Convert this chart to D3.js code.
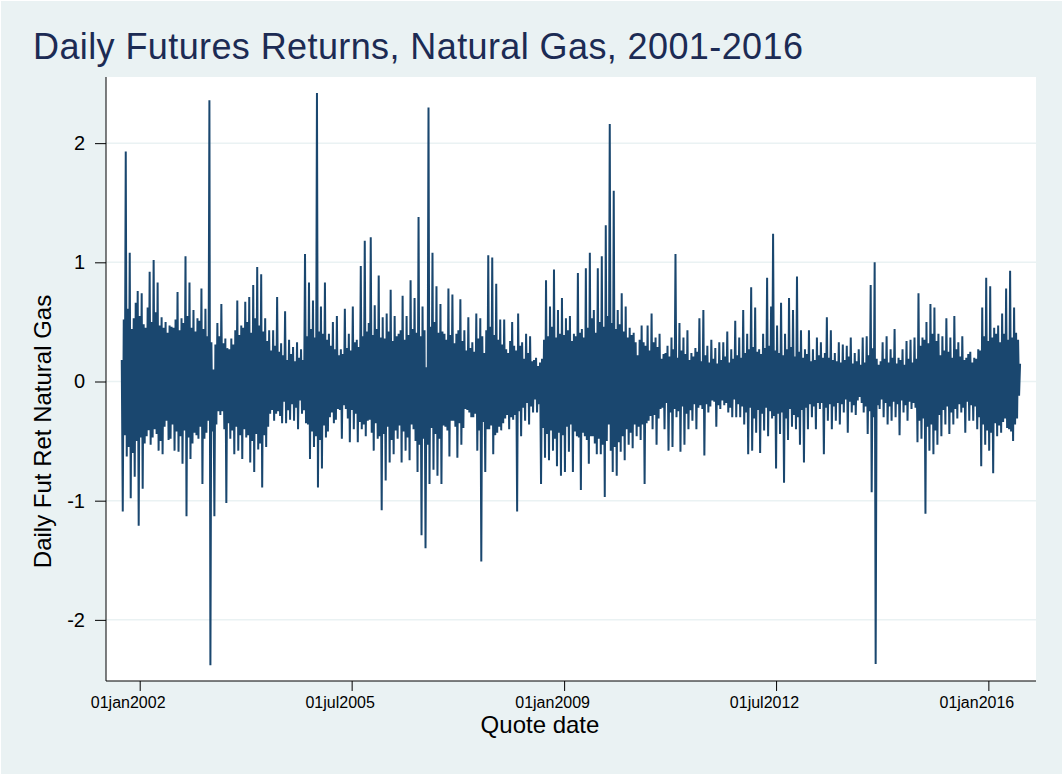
<!DOCTYPE html>
<html><head><meta charset="utf-8">
<script src="https://cdn.jsdelivr.net/npm/d3@7"></script>
<style>
html,body{margin:0;padding:0;background:#ffffff;}
svg{display:block;font-family:"Liberation Sans",Arial,Helvetica,sans-serif;}
</style>
</head><body>
<svg id="chart" width="1063" height="775"></svg>
<script>
// ---- chart data ----
const chartTitle = "Daily Futures Returns, Natural Gas, 2001-2016";
const xTitle = "Quote date";
const yTitle = "Daily Fut Ret Natural Gas";
const firstQuote = "2001-09-15";
const sampleStepDays = 6;
const returns = [
 0.18,-1.09,0.52,-0.45,1.93,-0.63,0.61,-0.55,1.08,-0.98,0.44,-0.60,0.53,-0.80,0.66,-0.50,0.76,-1.21,0.55,-0.47,
 0.74,-0.90,0.48,-0.52,0.45,-0.46,0.62,-0.41,0.92,-0.53,0.50,-0.47,1.02,-0.40,0.58,-0.44,0.83,-0.58,0.47,-0.50,
 0.54,-0.61,0.45,-0.38,0.50,-0.33,0.41,-0.49,0.47,-0.48,0.46,-0.36,0.45,-0.58,0.52,-0.42,0.75,-0.59,0.43,-0.46,
 0.53,-0.69,0.49,-0.41,1.05,-1.13,0.55,-0.47,0.83,-0.65,0.45,-0.52,0.60,-0.43,0.42,-0.45,0.53,-0.48,0.51,-0.38,
 0.78,-0.86,0.44,-0.48,0.61,-0.43,0.38,-0.33,2.36,-2.38,0.33,-0.42,0.10,-1.13,0.31,-0.36,0.49,-0.25,0.38,-0.28,
 0.65,-0.25,0.32,-0.40,0.36,-1.02,0.28,-0.35,0.27,-0.48,0.36,-0.41,0.31,-0.61,0.43,-0.38,0.68,-0.58,0.39,-0.45,
 0.47,-0.65,0.45,-0.40,0.67,-0.47,0.50,-0.45,0.71,-0.68,0.41,-0.50,0.81,-0.76,0.53,-0.44,0.96,-0.57,0.47,-0.52,
 0.90,-0.89,0.42,-0.45,0.53,-0.55,0.34,-0.38,0.43,-0.27,0.26,-0.24,0.43,-0.33,0.30,-0.27,0.71,-0.25,0.25,-0.29,
 0.32,-0.35,0.22,-0.17,0.59,-0.35,0.18,-0.24,0.35,-0.32,0.23,-0.19,0.29,-0.33,0.17,-0.22,0.33,-0.40,0.20,-0.16,
 0.27,-0.27,0.18,-0.24,1.07,-0.35,0.38,-0.36,0.83,-0.65,0.44,-0.42,0.68,-0.55,0.37,-0.46,2.42,-0.89,0.42,-0.49,
 0.63,-0.73,0.40,-0.37,0.83,-0.47,0.35,-0.42,0.40,-0.30,0.30,-0.26,0.50,-0.35,0.27,-0.32,0.55,-0.23,0.22,-0.24,
 0.27,-0.48,0.23,-0.20,0.61,-0.23,0.28,-0.31,0.40,-0.51,0.26,-0.24,0.63,-0.40,0.33,-0.27,0.35,-0.51,0.29,-0.34,
 0.97,-0.40,0.38,-0.36,1.18,-0.46,0.42,-0.33,0.49,-0.32,1.21,-0.43,0.39,-0.58,0.64,-0.35,0.44,-0.48,0.89,-0.46,0.37,
 -1.08,0.54,-0.44,0.36,-0.83,0.57,-0.38,0.42,-0.68,0.77,-0.49,0.34,-0.61,0.55,-0.41,0.38,-0.48,0.40,-0.37,0.43,
 -0.68,0.72,-0.42,0.35,-0.58,0.55,-0.47,0.39,-0.66,0.85,-0.36,0.44,-0.40,0.70,-0.50,0.41,-0.76,1.38,-0.53,0.38,
 -1.29,0.63,-0.48,0.43,-1.40,0.12,-0.53,2.30,-0.86,0.46,-0.39,1.08,-0.74,0.50,-0.44,0.80,-0.79,0.41,-0.48,
 0.65,-0.86,0.42,-0.37,0.40,-0.38,0.35,-0.41,0.78,-0.63,0.39,-0.33,0.73,-0.33,0.32,-0.38,0.40,-0.64,0.43,-0.35,
 0.69,-0.53,0.34,-0.39,0.43,-0.23,0.26,-0.24,0.54,-0.26,0.28,-0.30,0.33,-0.30,0.25,-0.27,0.57,-0.58,0.36,-0.41,
 0.53,-1.51,0.38,-0.34,0.24,-0.76,0.43,-0.40,1.06,-0.40,0.46,-0.37,1.04,-0.61,0.39,-0.45,0.82,-0.43,0.35,-0.38,
 0.52,-0.41,0.31,-0.35,0.52,-0.31,0.27,-0.28,0.24,-0.40,0.34,-0.30,0.50,-0.32,0.30,-0.28,0.26,-1.09,0.57,-0.25,0.30,
 -0.46,0.33,-0.22,0.19,-0.33,0.40,-0.18,0.24,-0.36,0.38,-0.21,0.17,-0.26,0.18,-0.15,0.20,-0.26,0.13,-0.19,0.16,
 -0.86,0.19,-0.39,0.35,-0.64,0.85,-0.44,0.38,-0.66,0.63,-0.41,0.46,-0.58,0.94,-0.48,0.37,-0.71,0.60,-0.43,0.40,
 -0.79,0.70,-0.45,0.39,-0.76,0.53,-0.38,0.43,-0.59,0.55,-0.36,0.34,-0.76,0.40,-0.42,0.38,-0.46,0.91,-0.47,0.41,
 -0.91,0.44,-0.43,0.37,-0.46,0.95,-0.49,0.45,-0.69,1.08,-0.46,0.53,-0.46,0.60,-0.52,0.41,-0.61,0.95,-0.48,0.50,
 -0.61,1.05,-0.53,0.46,-0.97,1.31,-0.50,0.55,-0.36,2.16,-0.58,0.49,-0.76,1.60,-0.55,0.44,-0.79,0.60,-0.51,0.48,
 -0.59,0.74,-0.46,0.42,-0.66,0.63,-0.40,0.37,-0.53,0.45,-0.43,0.39,-0.56,0.41,-0.36,0.33,-0.46,0.22,-0.38,0.35,
 -0.49,0.47,-0.36,0.33,-0.86,0.30,-0.35,0.47,-0.33,0.26,-0.29,0.57,-0.40,0.33,-0.28,0.37,-0.53,0.29,-0.31,
 0.40,-0.23,0.19,-0.22,0.23,-0.40,0.24,-0.18,0.30,-0.58,0.21,-0.26,0.37,-0.55,0.27,-0.23,1.07,-0.30,0.20,-0.25,
 0.49,-0.59,0.26,-0.21,0.37,-0.53,0.23,-0.27,0.43,-0.40,0.18,-0.24,0.24,-0.33,0.21,-0.19,0.28,-0.40,0.25,-0.22,
 0.53,-0.20,0.17,-0.23,0.60,-0.62,0.22,-0.19,0.30,-0.26,0.16,-0.21,0.35,-0.16,0.19,-0.17,0.28,-0.38,0.15,-0.20,
 0.33,-0.23,0.18,-0.16,0.33,-0.20,0.21,-0.18,0.42,-0.26,0.16,-0.22,0.27,-0.30,0.19,-0.15,0.51,-0.30,0.22,-0.19,
 0.37,-0.30,0.20,-0.21,0.60,-0.36,0.24,-0.26,0.40,-0.61,0.27,-0.22,0.79,-0.58,0.29,-0.31,0.62,-0.43,0.25,-0.24,
 0.27,-0.60,0.23,-0.27,0.40,-0.41,0.28,-0.22,0.87,-0.46,0.30,-0.25,0.63,-0.31,1.24,-0.29,0.26,-0.73,0.47,-0.27,0.24,
 -0.44,0.66,-0.26,0.22,-0.85,0.40,-0.31,0.27,-0.49,0.70,-0.23,0.29,-0.38,0.60,-0.28,0.21,-0.40,0.88,-0.30,0.25,
 -0.53,0.43,-0.24,0.20,-0.68,0.27,-0.22,0.23,-0.40,0.43,-0.19,0.17,-0.30,0.27,-0.21,0.18,-0.40,0.37,-0.18,0.22,
 -0.23,0.33,-0.18,0.20,-0.61,0.24,-0.22,0.54,-0.33,0.20,-0.19,0.43,-0.40,0.18,-0.21,0.24,-0.33,0.17,-0.18,
 0.33,-0.36,0.16,-0.19,0.31,-0.26,0.18,-0.15,0.30,-0.43,0.21,-0.17,0.37,-0.26,0.15,-0.20,0.24,-0.28,0.17,-0.16,
 0.27,-0.13,0.14,-0.18,0.37,-0.26,0.16,-0.21,0.38,-0.44,0.22,-0.25,0.81,-0.93,0.28,-0.30,1.00,-2.37,0.19,-0.20,
 0.14,-0.23,0.17,-0.15,0.33,-0.30,0.19,-0.18,0.38,-0.36,0.16,-0.21,0.27,-0.33,0.20,-0.17,0.44,-0.30,0.15,-0.19,
 0.20,-0.45,0.18,-0.16,0.27,-0.26,0.14,-0.20,0.34,-0.33,0.19,-0.17,0.35,-0.23,0.16,-0.18,0.37,-0.22,0.19,
 -0.51,0.74,-0.33,0.30,-0.48,0.37,-0.31,0.35,-1.11,0.50,-0.38,0.32,-0.58,0.65,-0.36,0.40,-0.61,0.62,-0.41,0.34,
 -0.53,0.40,-0.28,0.22,-0.46,0.38,-0.24,0.26,-0.36,0.53,-0.21,0.25,-0.44,0.37,-0.26,0.20,-0.36,0.55,-0.23,0.27,
 -0.31,0.33,-0.19,0.21,-0.26,0.38,-0.22,0.18,-0.43,0.20,-0.17,0.23,-0.33,0.25,-0.20,0.16,-0.33,0.20,-0.21,0.19,
 -0.40,0.27,-0.30,0.26,-0.71,0.62,-0.36,0.38,-0.53,0.87,-0.41,0.34,-0.58,0.80,-0.43,0.37,-0.77,0.45,-0.35,0.40,
 -0.46,0.47,-0.37,0.33,-0.43,0.57,-0.34,0.40,-0.31,0.78,-0.39,0.35,-0.40,0.93,-0.42,0.37,-0.50,0.62,-0.36,0.41,
 -0.31,0.35,-0.12,0.15
];
const xTickDates = ["2002-01-01","2005-07-01","2009-01-01","2012-07-01","2016-01-01"];
const xTickLabels = ["01jan2002","01jul2005","01jan2009","01jul2012","01jan2016"];
const yTickValues = [-2,-1,0,1,2];
const yTickLabels = ["-2","-1","0","1","2"];
const xDomainDates = ["2001-06-12","2016-10-14"];
const yDomainValues = [-2.513, 2.555];

// ---- drawing ----
const W = 1063, H = 775;
const plot = {left:106, right:1036, top:77, bottom:681};
const parse = d3.utcParse("%Y-%m-%d");
const start = parse(firstQuote);
const series = returns.map((v,i)=>({date:d3.utcDay.offset(start, i*sampleStepDays), value:v}));

const x = d3.scaleUtc().domain(xDomainDates.map(parse)).range([plot.left, plot.right]);
const y = d3.scaleLinear().domain(yDomainValues).range([plot.bottom, plot.top]);

const svg = d3.select("#chart");
svg.append("rect").attr("x",1).attr("y",1).attr("width",W-2).attr("height",H-2).attr("fill","#eaf2f3");
svg.append("rect").attr("x",plot.left).attr("y",plot.top)
  .attr("width",plot.right-plot.left).attr("height",plot.bottom-plot.top).attr("fill","#ffffff");

// gridlines
svg.append("g").selectAll("line").data(yTickValues).join("line")
  .attr("x1",plot.left).attr("x2",plot.right)
  .attr("y1",d=>y(d)).attr("y2",d=>y(d))
  .attr("stroke","#eaf2f3").attr("stroke-width",1.5);

// series line
const line = d3.line().x(d=>x(d.date)).y(d=>y(d.value));
svg.append("path").datum(series)
  .attr("d", line)
  .attr("fill","none")
  .attr("stroke","#1a476f")
  .attr("stroke-width",2)
  .attr("stroke-linejoin","bevel");

// y axis
const yAxis = svg.append("g").attr("transform",`translate(${plot.left},0)`)
  .call(d3.axisLeft(y).tickValues(yTickValues).tickSize(11).tickSizeOuter(0).tickPadding(10)
    .tickFormat((d,i)=>yTickLabels[i]));
yAxis.select(".domain").attr("stroke","#000").attr("stroke-width",1)
  .attr("d",`M0,${plot.bottom}V${plot.top}`);
yAxis.selectAll(".tick line").attr("stroke","#000").attr("stroke-width",1);
yAxis.selectAll(".tick text").attr("font-size",20).attr("fill","#000")
  .attr("font-family","Liberation Sans, Arial, sans-serif");

// x axis
const xAxis = svg.append("g").attr("transform",`translate(0,${plot.bottom})`)
  .call(d3.axisBottom(x).tickValues(xTickDates.map(parse)).tickSize(10).tickSizeOuter(0).tickPadding(6)
    .tickFormat((d,i)=>xTickLabels[i]));
xAxis.select(".domain").attr("stroke","#000").attr("stroke-width",1)
  .attr("d",`M${plot.left},0H${plot.right}`);
xAxis.selectAll(".tick line").attr("stroke","#000").attr("stroke-width",1);
xAxis.selectAll(".tick text").attr("font-size",16).attr("fill","#000").attr("dx",-12)
  .attr("font-family","Liberation Sans, Arial, sans-serif");

// titles
svg.append("text").attr("x",33).attr("y",59)
  .attr("font-size",36).attr("letter-spacing","0.4px").attr("fill","#1c2b54").text(chartTitle);
svg.append("text").attr("x",540).attr("y",733).attr("text-anchor","middle")
  .attr("font-size",24).attr("fill","#000").text(xTitle);
svg.append("text").attr("transform","translate(51,431.5) rotate(-90)").attr("text-anchor","middle")
  .attr("font-size",24).attr("fill","#000").text(yTitle);
</script>
</body></html>
